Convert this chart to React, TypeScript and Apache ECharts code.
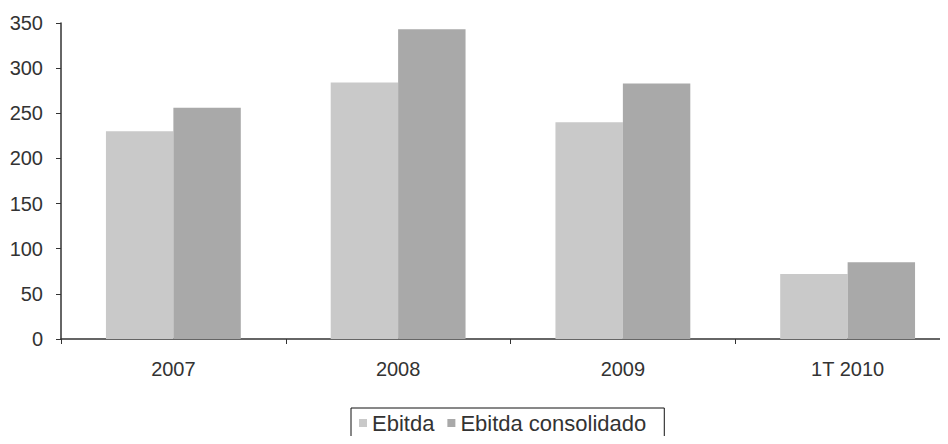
import React, { useEffect, useRef } from "react";
import * as echarts from "echarts";

const categories = ["2007", "2008", "2009", "1T 2010"];
const ebitda = [230, 284, 240, 72];
const ebitdaConsolidado = [256, 343, 283, 85];
const seriesNames = ["Ebitda", "Ebitda consolidado"];

export default function App() {
  const ref = useRef<HTMLDivElement>(null);
  useEffect(() => {
    if (!ref.current) return;
    const chart = echarts.init(ref.current, null, { renderer: "svg" });
    const font = "Liberation Sans, Arial, sans-serif";
    chart.setOption({
      animation: false,
      backgroundColor: "#ffffff",
      grid: { left: 61, top: 23, right: -12, bottom: 105, containLabel: false, outerBoundsMode: "none" },
      legend: {
        left: 351,
        top: 408,
        orient: "horizontal",
        data: seriesNames,
        itemWidth: 8,
        itemHeight: 8,
        itemGap: 13,
        icon: "rect",
        borderColor: "#111",
        borderWidth: 1,
        borderRadius: 0,
        padding: [4, 18, 20, 8],
        textStyle: { fontSize: 22, color: "#333", fontFamily: font },
      },
      xAxis: {
        type: "category",
        data: categories,
        axisLine: { lineStyle: { color: "#333", width: 1.5 } },
        axisTick: { show: true, length: 5, alignWithLabel: false, lineStyle: { color: "#333" } },
        axisLabel: { fontSize: 20, color: "#333", margin: 20, fontFamily: font },
      },
      yAxis: {
        type: "value",
        min: 0,
        max: 350,
        interval: 50,
        splitLine: { show: false },
        axisLine: { show: true, lineStyle: { color: "#333", width: 1.5 } },
        axisTick: { show: true, length: 5, inside: false, lineStyle: { color: "#333" } },
        axisLabel: { fontSize: 20, color: "#333", margin: 18, fontFamily: font },
      },
      series: [
        {
          name: seriesNames[0],
          type: "bar",
          data: ebitda,
          barGap: "0%",
          barCategoryGap: "40%",
          itemStyle: { color: "#c9c9c9" },
        },
        {
          name: seriesNames[1],
          type: "bar",
          data: ebitdaConsolidado,
          barGap: "0%",
          barCategoryGap: "40%",
          itemStyle: { color: "#a9a9a9" },
        },
      ],
    });
    return () => chart.dispose();
  }, []);
  return <div ref={ref} style={{ width: 948, height: 444, margin: -8 }} />;
}
